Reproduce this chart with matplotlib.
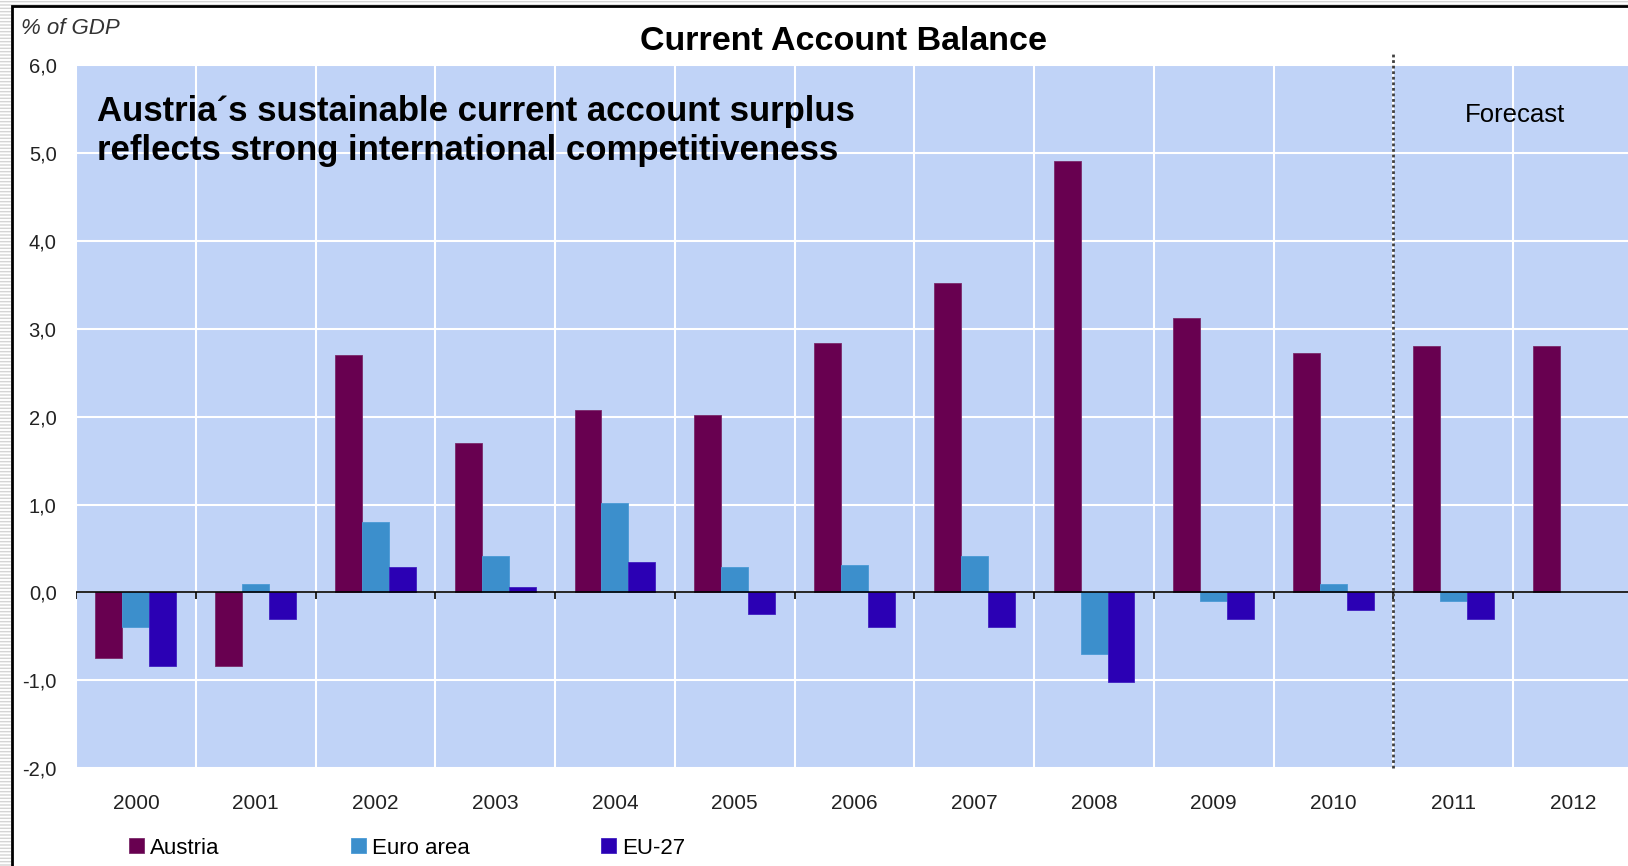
import numpy as np
import matplotlib
matplotlib.use('Agg')
import matplotlib.pyplot as plt
import matplotlib.patches as patches

plt.rcParams['font.family'] = ['Liberation Sans', 'DejaVu Sans']

# Data (% of GDP)
years = ['2000', '2001', '2002', '2003', '2004', '2005', '2006',
         '2007', '2008', '2009', '2010', '2011', '2012']
austria = [-0.75, -0.84, 2.70, 1.70, 2.08, 2.02, 2.84, 3.52, 4.91, 3.12,
           2.72, 2.80, 2.80]
euro_area = [-0.40, 0.10, 0.80, 0.41, 1.02, 0.29, 0.31, 0.41, -0.70, -0.10,
             0.10, -0.10, np.nan]
eu27 = [-0.84, -0.30, 0.29, 0.06, 0.34, -0.25, -0.40, -0.40, -1.02, -0.30,
        -0.20, -0.30, np.nan]
y_ticks = [-2, -1, 0, 1, 2, 3, 4, 5, 6]
forecast_from = 11  # index of first forecast year

W, H = 1628, 866
fig = plt.figure(figsize=(W / 100, H / 100), dpi=100)

# Frame and striped margin like the screenshot
fig.add_artist(patches.Rectangle((0, 0), 11 / W, 1, transform=fig.transFigure,
                                 facecolor='white', edgecolor='#d4d4d4',
                                 hatch='-----', lw=0))
fig.add_artist(patches.Rectangle((0, 1 - 5 / H), 1, 5 / H,
                                 transform=fig.transFigure, facecolor='white',
                                 edgecolor='#d4d4d4', hatch='-----', lw=0))
fig.add_artist(patches.Rectangle((12 / W, -0.01), 1, 1.01 - 6 / H,
                                 transform=fig.transFigure, fill=False,
                                 edgecolor='black', lw=2))

ax = fig.add_axes([76 / W, 98 / H, 1557 / W, 702.6 / H])
ax.set_facecolor('#C0D3F7')

x = np.arange(len(years))
w = 0.225
b1 = ax.bar(x - w, austria, w, color='#680050', edgecolor='#7a2a6a',
            lw=0.6, label='Austria', zorder=3)
b2 = ax.bar(x, euro_area, w, color='#3C8FCC', edgecolor='#4a9ad6',
            lw=0.6, label='Euro area', zorder=3)
b3 = ax.bar(x + w, eu27, w, color='#2B00B4', edgecolor='#4020c0',
            lw=0.6, label='EU-27', zorder=3)

ax.set_xlim(-0.5, len(years) - 0.5)
ax.set_ylim(-2, 6)
ax.set_yticks(y_ticks)
ax.set_yticklabels(['{:.1f}'.format(v).replace('.', ',') for v in y_ticks])
ax.set_xticks(x)
ax.set_xticklabels(years)
ax.set_xticks(np.arange(-0.5, len(years)), minor=True)
ax.grid(True, which='major', axis='y', color='white', lw=1.5)
ax.grid(True, which='minor', axis='x', color='white', lw=1.5)
ax.set_axisbelow(True)
ax.tick_params(axis='both', which='both', length=0, labelsize=15,
               labelcolor='#222222')
ax.tick_params(axis='x', pad=19)
ax.tick_params(axis='y', pad=14, labelsize=14.5)
for s in ax.spines.values():
    s.set_visible(False)

# zero line with category ticks
ax.axhline(0, color='black', lw=1.2, zorder=4)
ax.vlines(np.arange(-0.5, len(years)), -0.08, 0, color='black', lw=1.2,
          zorder=4)

# forecast divider
ax.plot([forecast_from - 0.5] * 2, [-2, 6.13], color='#404040',
        ls=(0, (1, 1)), lw=2, clip_on=False, zorder=5)

fig.text(844 / W, 1 - 41 / H, 'Current Account Balance', ha='center',
         va='center', fontsize=24.5, weight='bold')
fig.text(97 / W, 1 - 131 / H,
         'Austria\u00b4s sustainable current account surplus\n'
         'reflects strong international competitiveness',
         ha='left', va='center', fontsize=25, weight='bold', linespacing=1.2)
fig.text(1515 / W, 1 - 115 / H, 'Forecast', ha='center', va='center',
         fontsize=18.5)
fig.text(21 / W, 1 - 28 / H, '% of GDP', ha='left', va='center',
         fontsize=16, style='italic', color='#333333')

fig.legend([b1, b2, b3], ['Austria', 'Euro area', 'EU-27'],
           loc='center left', bbox_to_anchor=(129 / W, 1 - 848 / H), ncol=3,
           frameon=False, fontsize=16, handlelength=0.67, handleheight=0.67,
           handletextpad=0.28, columnspacing=5.9, borderpad=0,
           borderaxespad=0)

fig.savefig('out.png', dpi=100)
